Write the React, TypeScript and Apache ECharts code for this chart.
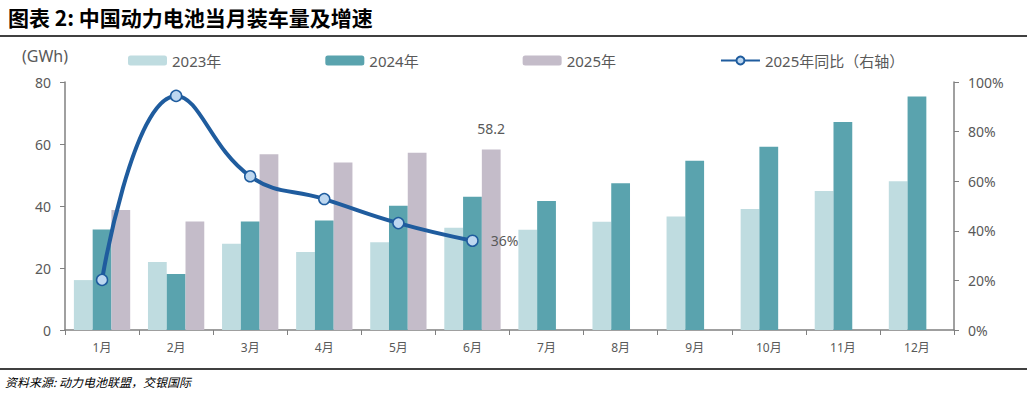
import React, { useEffect, useRef } from "react";
import * as echarts from "echarts";

const months = ["1月", "2月", "3月", "4月", "5月", "6月", "7月", "8月", "9月", "10月", "11月", "12月"];
const v2023 = [16.1, 21.9, 27.8, 25.2, 28.3, 33.0, 32.3, 34.9, 36.6, 39.0, 44.8, 48.0];
const v2024 = [32.4, 18.1, 35.0, 35.3, 40.1, 43.0, 41.6, 47.3, 54.6, 59.1, 67.1, 75.3];
const v2025 = [38.7, 35.0, 56.7, 54.0, 57.2, 58.2];
const yoy2025 = [20.2, 94.4, 62.0, 52.8, 43.1, 36.0];
const leftTicks = [0, 20, 40, 60, 80];
const rightTicks = [0, 20, 40, 60, 80, 100];

const TXT = "#595959";
const FONT = "'Noto Sans', 'Noto Sans CJK SC', sans-serif";

export default function App() {
  const ref = useRef<HTMLDivElement>(null);
  useEffect(() => {
    if (!ref.current) return;
    const chart = echarts.init(ref.current, undefined, { renderer: "svg" });
    const axisLine = { show: true, lineStyle: { color: "#808080", width: 1.5 } };
    chart.setOption({
      animation: false,
      textStyle: { fontFamily: FONT },
      grid: { left: 65, right: 73, top: 82, bottom: 70 },
      legend: {
        left: 123,
        top: 48,
        itemWidth: 39,
        itemHeight: 10,
        itemGap: 104,
        textStyle: { color: TXT, fontSize: 15, fontFamily: FONT },
        data: ["2023年", "2024年", "2025年", "2025年同比（右轴）"],
      },
      xAxis: {
        type: "category",
        data: months,
        axisLine,
        axisTick: { show: true, length: 5, lineStyle: { color: "#808080" } },
        axisLabel: { color: TXT, fontSize: 12, margin: 11, fontFamily: FONT },
      },
      yAxis: [
        {
          type: "value",
          min: leftTicks[0],
          max: leftTicks[leftTicks.length - 1],
          interval: 20,
          axisLine,
          axisTick: { show: true, inside: false, length: 5, lineStyle: { color: "#808080" } },
          splitLine: { show: false },
          axisLabel: { color: TXT, fontSize: 14, margin: 14, fontFamily: FONT },
        },
        {
          type: "value",
          min: rightTicks[0],
          max: rightTicks[rightTicks.length - 1],
          interval: 20,
          position: "right",
          axisLine,
          axisTick: { show: true, length: 5, lineStyle: { color: "#808080" } },
          splitLine: { show: false },
          axisLabel: { color: TXT, fontSize: 14, margin: 14, formatter: "{value}%", fontFamily: FONT },
        },
      ],
      series: [
        {
          name: "2023年",
          type: "bar",
          data: v2023,
          barGap: "0%",
          barCategoryGap: "24%",
          itemStyle: { color: "#BFDCE0" },
        },
        {
          name: "2024年",
          type: "bar",
          data: v2024,
          itemStyle: { color: "#5AA3AE" },
        },
        {
          name: "2025年",
          type: "bar",
          data: v2025.map((v, i) =>
            i === v2025.length - 1
              ? { value: v, label: { show: true, position: "top", distance: 14, color: TXT, fontSize: 14, fontFamily: FONT } }
              : v
          ),
          itemStyle: { color: "#C4BCC9" },
        },
        {
          name: "2025年同比（右轴）",
          type: "line",
          yAxisIndex: 1,
          data: yoy2025.map((v, i) =>
            i === yoy2025.length - 1
              ? {
                  value: v,
                  label: {
                    show: true,
                    position: "right",
                    distance: 12,
                    formatter: "{c}%",
                    color: TXT,
                    fontSize: 14,
                    fontFamily: FONT,
                  },
                }
              : v
          ),
          smooth: 0.45,
          symbol: "circle",
          symbolSize: 11,
          lineStyle: { color: "#1F5C9E", width: 4 },
          itemStyle: { color: "#BDD7F0", borderColor: "#1F5C9E", borderWidth: 1.5 },
          z: 5,
        },
      ],
      graphic: [
        {
          type: "text",
          left: 8,
          top: 6,
          style: {
            text: "图表 2: 中国动力电池当月装车量及增速",
            font: "bold 21px 'Noto Sans CJK SC', sans-serif",
            fill: "#000",
          },
        },
        {
          type: "line",
          shape: { x1: 0, y1: 36, x2: 1027, y2: 36 },
          style: { stroke: "#000", lineWidth: 1.5 },
        },
        {
          type: "text",
          left: 22,
          top: 48,
          style: { text: "(GWh)", font: "16px 'Noto Sans', sans-serif", fill: TXT },
        },
        {
          type: "line",
          shape: { x1: 0, y1: 369, x2: 1027, y2: 369 },
          style: { stroke: "#000", lineWidth: 1.5 },
        },
        {
          type: "text",
          left: 5,
          top: 375,
          style: {
            text: "资料来源: 动力电池联盟，交银国际",
            font: "italic 12px 'Noto Sans CJK SC', sans-serif",
            fill: "#000",
          },
        },
      ],
    });
    return () => chart.dispose();
  }, []);
  return <div ref={ref} style={{ position: "absolute", left: 0, top: 0, width: 1027, height: 400 }} />;
}
